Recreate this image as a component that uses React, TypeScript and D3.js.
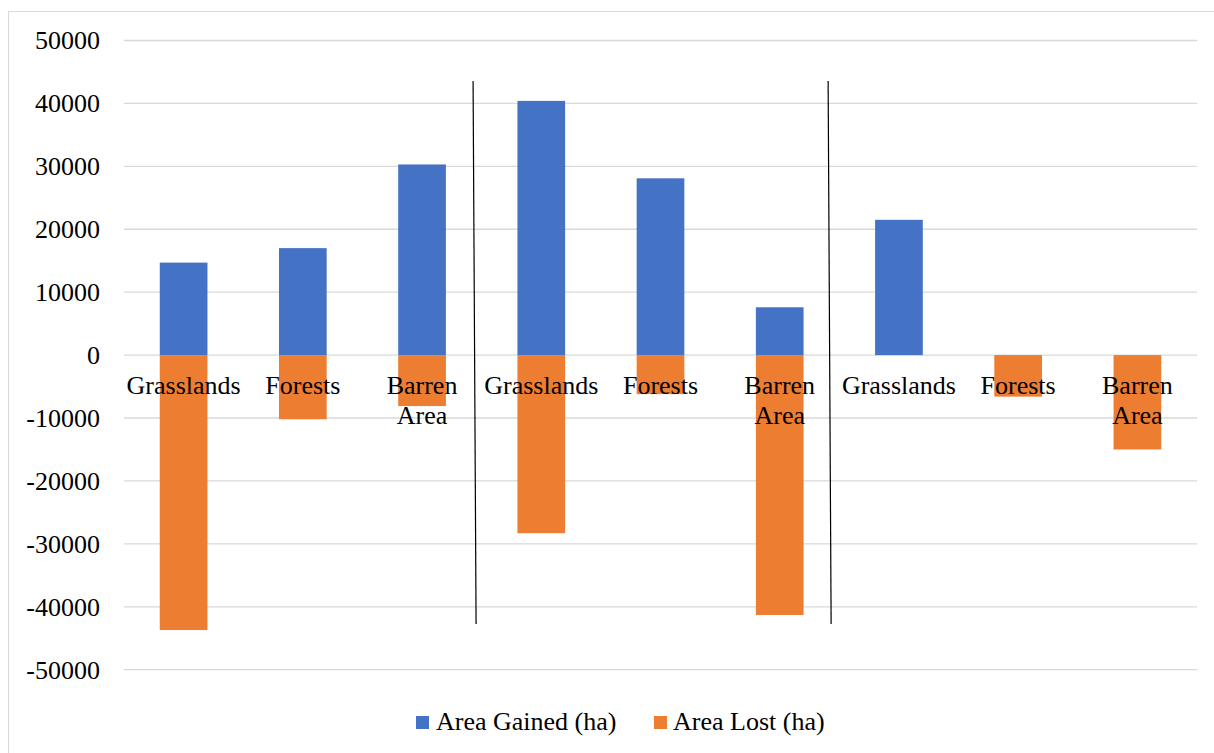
import React from "react";
import * as d3 from "d3";

// Land-cover change per class, three periods side by side
const categories = [
  "Grasslands", "Forests", "Barren Area",
  "Grasslands", "Forests", "Barren Area",
  "Grasslands", "Forests", "Barren Area",
];
const areaGained = [14700, 17000, 30300, 40400, 28100, 7600, 21500, 0, 0];
const areaLost = [43700, 10200, 8100, 28300, 6200, 41300, 0, 6600, 15000];
const yTicks = [50000, 40000, 30000, 20000, 10000, 0, -10000, -20000, -30000, -40000, -50000];
const seriesNames = ["Area Gained (ha)", "Area Lost (ha)"];
const seriesColors = ["#4472C4", "#ED7D31"];
// Period separators, expressed in category-step units from the left of the plot
const separators = [2.928, 5.906];

const W = 1214;
const H = 753;
const textStyle: React.CSSProperties = {
  fontFamily: '"Liberation Serif", "Times New Roman", Times, serif',
  fontSize: "26px",
};

export default function App() {
  const plotLeft = 124;
  const plotRight = 1197;
  const x = d3
    .scaleBand<number>()
    .domain(categories.map((_, i) => i))
    .range([plotLeft, plotRight])
    .paddingInner(0.6)
    .paddingOuter(0.3);
  const y = d3.scaleLinear().domain([-50000, 50000]).range([669.7, 40.5]);
  const bw = x.bandwidth();
  const step = x.step();

  const legendY = 716;
  const legendItems = [
    { sx: 416, tx: 436 },
    { sx: 654, tx: 673 },
  ];

  return (
    <svg
      width={W}
      height={H}
      style={{ position: "absolute", left: 0, top: 0, background: "#fff" }}
    >
      <rect x={8.5} y={11.5} width={W} height={H} fill="#fff" stroke="#d9d9d9" strokeWidth={1} />

      {/* gridlines */}
      {yTicks.map((t) => (
        <line
          key={"g" + t}
          x1={plotLeft}
          x2={plotRight}
          y1={y(t)}
          y2={y(t)}
          stroke="#d9d9d9"
          strokeWidth={1.3}
        />
      ))}

      {/* tick labels */}
      {yTicks.map((t) => (
        <text
          key={"t" + t}
          x={100}
          y={y(t)}
          dy="0.34em"
          textAnchor="end"
          style={textStyle}
          fill="#000"
        >
          {t}
        </text>
      ))}

      {/* gained bars */}
      {areaGained.map((v, i) =>
        v > 0 ? (
          <rect
            key={"a" + i}
            x={x(i)}
            y={y(v)}
            width={bw}
            height={y(0) - y(v)}
            fill={seriesColors[0]}
          />
        ) : null
      )}

      {/* lost bars */}
      {areaLost.map((v, i) =>
        v > 0 ? (
          <rect
            key={"l" + i}
            x={x(i)}
            y={y(0)}
            width={bw}
            height={y(-v) - y(0)}
            fill={seriesColors[1]}
          />
        ) : null
      )}

      {/* category labels */}
      {categories.map((c, i) => {
        const cx = (x(i) as number) + bw / 2;
        const words = c.split(" ");
        return (
          <text key={"c" + i} x={cx} y={394} textAnchor="middle" style={textStyle} fill="#000">
            {words.map((w, k) => (
              <tspan key={k} x={cx} dy={k === 0 ? 0 : 30}>
                {w}
              </tspan>
            ))}
          </text>
        );
      })}

      {/* period separators */}
      {separators.map((s, i) => {
        const sx = plotLeft + s * step;
        return (
          <line
            key={"s" + i}
            x1={sx}
            y1={81}
            x2={sx + 3}
            y2={624}
            stroke="#000"
            strokeWidth={1.2}
          />
        );
      })}

      {/* legend */}
      {seriesNames.map((n, i) => (
        <g key={"lg" + i}>
          <rect x={legendItems[i].sx} y={legendY} width={13} height={13} fill={seriesColors[i]} />
          <text x={legendItems[i].tx} y={730} style={textStyle} fill="#000">
            {n}
          </text>
        </g>
      ))}
    </svg>
  );
}
